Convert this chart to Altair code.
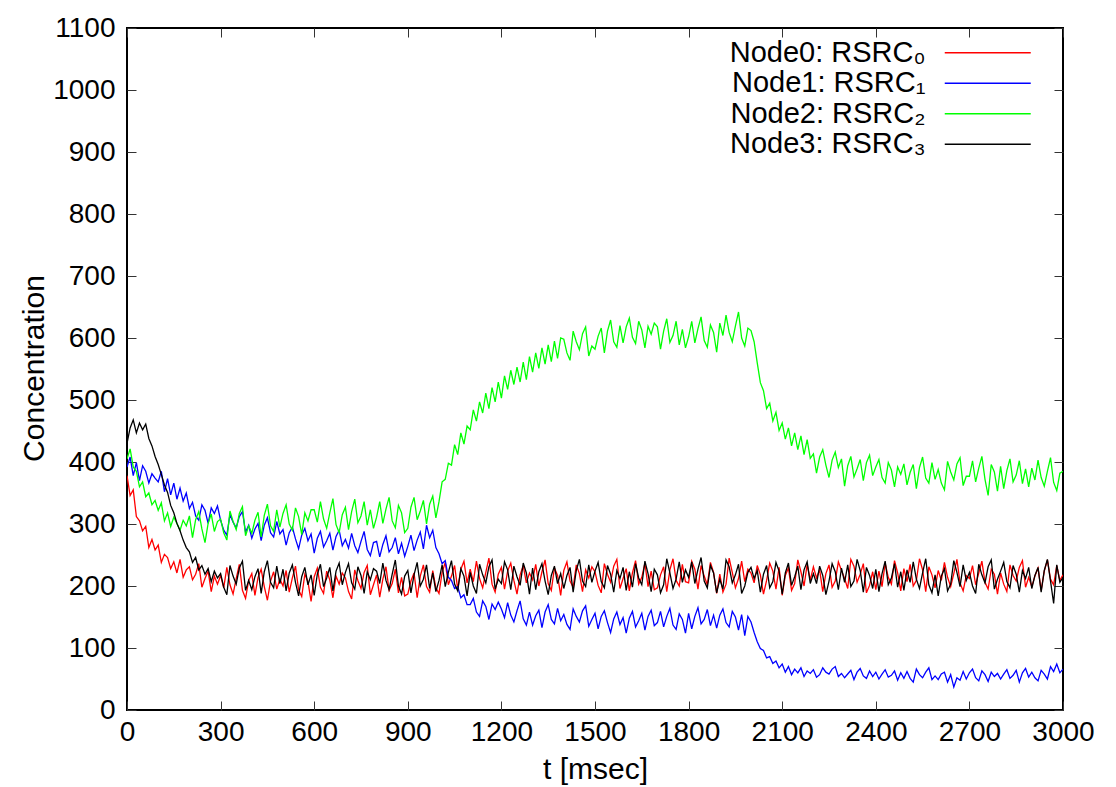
import altair as alt
import pandas as pd

FONT = "Liberation Sans"

# sample times (msec), one reading every 10 msec
times = list(range(0, 3001, 10))

# Node0: RSRC0 (red)
node0 = [
    378, 346, 355, 312, 305, 289, 296, 262, 275, 258,
    266, 238, 251, 246, 228, 239, 221, 243, 214, 226,
    231, 210, 219, 236, 198, 212, 224, 191, 216, 203,
    217, 197, 230, 202, 187, 212, 235, 193, 180, 209,
    220, 185, 214, 227, 199, 177, 208, 223, 195, 211,
    200, 225, 190, 213, 232, 194, 183, 219, 207, 175,
    215, 229, 198, 188, 224, 210, 181, 216, 203, 221,
    213, 191, 179, 226, 209, 196, 222, 233, 186, 202,
    218, 182, 211, 231, 193, 204, 227, 189, 214, 184,
    187, 208, 221, 181, 216, 234, 199, 190, 225, 197,
    188, 222, 238, 202, 216, 233, 195, 227, 240, 205,
    227, 207, 240, 212, 197, 222, 245, 203, 190, 219,
    230, 195, 224, 237, 209, 187, 218, 233, 205, 221,
    210, 235, 200, 223, 242, 204, 193, 229, 217, 185,
    225, 239, 208, 198, 234, 220, 191, 226, 213, 231,
    223, 201, 189, 236, 219, 206, 232, 243, 196, 212,
    228, 192, 221, 241, 203, 214, 237, 199, 224, 194,
    197, 218, 231, 191, 226, 244, 209, 200, 235, 207,
    205, 240, 227, 195, 233, 216, 202, 238, 222, 188,
    219, 190, 203, 245, 222, 197, 212, 240, 207, 227,
    221, 205, 233, 218, 187, 209, 237, 224, 195, 230,
    185, 217, 229, 193, 204, 242, 223, 200, 235, 210,
    231, 213, 226, 191, 220, 234, 198, 208, 239, 225,
    212, 196, 243, 232, 206, 219, 236, 189, 201, 223,
    194, 224, 199, 237, 214, 203, 241, 221, 192, 228,
    207, 235, 200, 209, 244, 226, 191, 231, 218, 197,
    225, 209, 238, 214, 199, 220, 243, 205, 192, 217,
    212, 233, 202, 221, 240, 206, 195, 227, 219, 187,
    221, 203, 191, 234, 217, 208, 230, 241, 198, 214,
    199, 216, 229, 193, 224, 242, 211, 202, 233, 209,
    218,
]

# Node1: RSRC1 (blue)
node1 = [
    392, 408, 378, 399, 370, 394, 385, 366, 381, 374,
    368, 385, 352, 373, 347, 366, 340, 358, 337, 350,
    325, 335, 313, 306, 331, 322, 301, 326, 317, 329,
    306, 290, 282, 315, 303, 294, 312, 320, 287, 298,
    277, 292, 301, 273, 298, 310, 286, 279, 304, 284,
    291, 266, 286, 295, 276, 260, 282, 293, 273, 284,
    253, 277, 288, 263, 273, 285, 258, 280, 290, 265,
    275, 261, 285, 265, 254, 272, 288, 259, 249, 270,
    272, 247, 267, 281, 255, 262, 278, 252, 269, 248,
    264, 282, 257, 274, 287, 260, 298, 278, 290, 262,
    252, 236, 241, 214, 209, 196, 199, 181, 186, 170,
    170, 180, 158, 151, 176, 167, 146, 171, 162, 174,
    163, 149, 173, 153, 142, 160, 176, 147, 137, 158,
    137, 152, 161, 133, 158, 170, 146, 139, 164, 144,
    154, 138, 130, 163, 151, 142, 160, 168, 135, 146,
    156, 131, 151, 160, 141, 125, 147, 158, 138, 149,
    124, 148, 159, 134, 144, 156, 129, 151, 161, 136,
    141, 159, 134, 151, 164, 137, 130, 155, 146, 124,
    156, 131, 151, 165, 139, 146, 162, 136, 153, 132,
    153, 163, 141, 134, 159, 150, 129, 154, 120, 151,
    142, 125, 110, 99, 96, 84, 86, 75, 79, 68,
    74, 61, 70, 57, 66, 60, 68, 54, 63, 59,
    65, 53, 57, 68, 61, 58, 66, 70, 54, 59,
    52, 58, 64, 49, 61, 67, 55, 51, 63, 54,
    61, 50, 58, 65, 53, 56, 63, 48, 60, 51,
    62, 51, 45, 66, 57, 52, 61, 68, 49, 55,
    49, 58, 61, 45, 57, 37, 52, 48, 62, 50,
    60, 66, 52, 47, 63, 57, 46, 61, 54, 59,
    50, 58, 65, 51, 56, 64, 45, 60, 67, 53,
    61, 52, 47, 64, 58, 50, 70, 62, 74, 60,
    66,
]

# Node2: RSRC2 (green)
node2 = [
    405, 421, 392, 385, 360, 368, 344, 350, 331, 338,
    322, 334, 305, 318, 296, 311, 301, 290, 306, 297,
    313, 278, 307, 320, 292, 270, 301, 316, 288, 304,
    308, 286, 274, 321, 304, 291, 317, 328, 281, 297,
    285, 306, 319, 279, 314, 332, 297, 288, 323, 295,
    317, 331, 300, 290, 326, 312, 283, 318, 305, 323,
    323, 303, 336, 308, 293, 318, 341, 299, 286, 315,
    327, 291, 320, 340, 302, 313, 336, 298, 323, 293,
    311, 336, 301, 324, 343, 305, 294, 330, 318, 286,
    293, 327, 343, 307, 321, 338, 300, 332, 345, 310,
    336, 368, 372, 398, 395, 428, 412, 447, 429, 458,
    452, 484, 466, 497, 479, 511, 486, 520, 497, 529,
    503, 539, 517, 548, 525, 553, 529, 561, 533, 570,
    545, 576, 551, 584, 558, 589, 562, 595, 567, 600,
    598, 576, 564, 611, 594, 581, 607, 618, 571, 587,
    582, 603, 616, 576, 611, 629, 594, 585, 620, 592,
    618, 632, 601, 591, 627, 613, 584, 619, 606, 624,
    618, 582, 611, 631, 593, 604, 627, 589, 614, 584,
    602, 627, 592, 615, 634, 596, 585, 621, 609, 577,
    624, 604, 637, 609, 594, 619, 642, 600, 587, 616,
    612, 594, 560, 528, 515, 486, 495, 466, 480, 451,
    463, 437, 455, 426, 447, 420, 442, 412, 436, 406,
    413, 382, 408, 420, 395, 375, 403, 416, 391, 405,
    361, 394, 409, 376, 389, 404, 370, 399, 411, 378,
    392, 404, 375, 366, 399, 387, 360, 392, 380, 397,
    363, 383, 396, 357, 391, 408, 374, 366, 399, 372,
    388, 366, 355, 401, 384, 371, 397, 407, 362, 377,
    377, 402, 368, 390, 409, 372, 346, 396, 384, 353,
    393, 357, 386, 405, 368, 379, 402, 365, 389, 360,
    390, 371, 403, 375, 361, 385, 407, 367, 354, 382,
    385,
]

# Node3: RSRC3 (black)
node3 = [
    430, 455, 468, 447, 463, 452, 461, 438, 426, 409,
    396, 380, 363, 351, 330, 318, 301, 289, 274, 262,
    255, 238, 246, 226, 233, 219, 228, 207, 224, 213,
    220, 198, 186, 233, 216, 203, 229, 240, 193, 209,
    194, 215, 228, 188, 223, 241, 206, 197, 232, 204,
    227, 192, 221, 234, 206, 184, 215, 230, 202, 218,
    185, 219, 235, 199, 213, 230, 192, 224, 237, 202,
    222, 236, 205, 195, 231, 217, 188, 223, 210, 228,
    224, 204, 237, 209, 194, 219, 242, 200, 187, 216,
    225, 189, 218, 238, 200, 211, 234, 196, 221, 191,
    209, 234, 199, 222, 241, 203, 192, 228, 216, 184,
    222, 200, 188, 235, 218, 205, 231, 242, 195, 211,
    204, 239, 226, 194, 232, 215, 201, 237, 221, 187,
    229, 194, 223, 236, 208, 186, 217, 232, 204, 220,
    196, 217, 230, 190, 225, 243, 208, 199, 234, 206,
    224, 238, 207, 197, 233, 219, 190, 225, 212, 230,
    193, 223, 198, 236, 213, 202, 240, 220, 191, 227,
    218, 189, 202, 244, 221, 196, 211, 239, 206, 226,
    214, 239, 204, 227, 246, 208, 197, 233, 221, 189,
    211, 195, 242, 231, 205, 218, 235, 188, 200, 222,
    230, 212, 225, 190, 219, 233, 197, 207, 238, 224,
    187, 221, 237, 201, 215, 232, 194, 226, 239, 204,
    220, 204, 232, 217, 186, 208, 236, 223, 194, 229,
    206, 234, 199, 208, 243, 225, 190, 230, 217, 196,
    227, 191, 220, 240, 202, 213, 236, 198, 223, 193,
    226, 206, 239, 211, 196, 221, 244, 202, 189, 218,
    184, 216, 228, 192, 203, 241, 222, 199, 234, 209,
    222, 200, 188, 235, 218, 205, 231, 242, 195, 211,
    224, 238, 207, 197, 233, 219, 190, 225, 212, 230,
    196, 217, 230, 190, 225, 243, 208, 172, 234, 206,
    214,
]

labels = ["Node0: RSRC\u2080", "Node1: RSRC\u2081", "Node2: RSRC\u2082", "Node3: RSRC\u2083"]
colors = ["#ff0000", "#0000ff", "#00ff00", "#000000"]
x_ticks = [0, 300, 600, 900, 1200, 1500, 1800, 2100, 2400, 2700, 3000]
y_ticks = [0, 100, 200, 300, 400, 500, 600, 700, 800, 900, 1000, 1100]

rows = []
for lab, series in zip(labels, [node0, node1, node2, node3]):
    for t, v in zip(times, series):
        rows.append({"t": t, "value": v, "series": lab})
df = pd.DataFrame(rows)

x_scale = alt.Scale(domain=[0, 3000], nice=False, zero=False)
y_scale = alt.Scale(domain=[0, 1100], nice=False)

lines = alt.Chart(df).mark_line(strokeWidth=1.3, clip=True).encode(
    x=alt.X(
        "t:Q", scale=x_scale,
        axis=alt.Axis(
            values=x_ticks, format="d", ticks=False, domain=False, grid=False,
            labelFont=FONT, labelFontSize=28, labelColor="black", labelPadding=8,
            labelFlush=False, labelOverlap=False,
            title="t [msec]", titleFont=FONT, titleFontSize=30, titleFontWeight="normal",
            titleColor="black", titleX=468, titleY=68, titleAlign="center",
            titleBaseline="alphabetic",
        ),
    ),
    y=alt.Y(
        "value:Q", scale=y_scale,
        axis=alt.Axis(
            values=y_ticks, format="d", ticks=False, domain=False, grid=False,
            labelFont=FONT, labelFontSize=28, labelColor="black", labelPadding=12,
            labelOverlap=False,
            title="Concentration", titleFont=FONT, titleFontSize=30, titleFontWeight="normal",
            titleColor="black", titleAngle=270, titleX=-84, titleY=340, titleAlign="center",
            titleBaseline="alphabetic",
        ),
    ),
    color=alt.Color(
        "series:N",
        scale=alt.Scale(domain=labels, range=colors),
        legend=alt.Legend(
            title=None, orient="none", legendX=846.25, legendY=10.25, direction="vertical",
            symbolType="M-4,0H4", symbolSize=462.25, symbolStrokeWidth=1.5,
            labelFont=FONT, labelFontSize=29, labelColor="black", labelAlign="right",
            labelOffset={"expr": "-76.75"}, labelLimit=500,
            rowPadding=0.5, padding=0,
        ),
    ),
)

anchor = pd.DataFrame({"t": [0], "value": [0]})
tick_style = dict(domain=False, labels=False, grid=False, title=None, ticks=True,
                  tickSize=9, tickColor="#333333", tickWidth=1, offset=-9)

ticks_a = alt.Chart(anchor).mark_point(opacity=0).encode(
    x=alt.X("t:Q", scale=x_scale, axis=alt.Axis(orient="bottom", values=x_ticks, **tick_style)),
    y=alt.Y("value:Q", scale=y_scale, axis=alt.Axis(orient="left", values=y_ticks, **tick_style)),
)
ticks_b = alt.Chart(anchor).mark_point(opacity=0).encode(
    x=alt.X("t:Q", scale=x_scale, axis=alt.Axis(orient="top", values=x_ticks, **tick_style)),
    y=alt.Y("value:Q", scale=y_scale, axis=alt.Axis(orient="right", values=y_ticks, **tick_style)),
)

chart = (
    alt.layer(lines, ticks_a, ticks_b)
    .resolve_axis(x="independent", y="independent")
    .properties(
        width=936, height=682,
        autosize=alt.AutoSizeParams(type="none"),
        padding={"left": 119, "top": 20, "right": 37, "bottom": 75},
        background="white",
    )
    .configure_view(stroke="black", strokeWidth=2)
)

chart.save("out.html", embed_options={"renderer": "svg", "actions": False})
